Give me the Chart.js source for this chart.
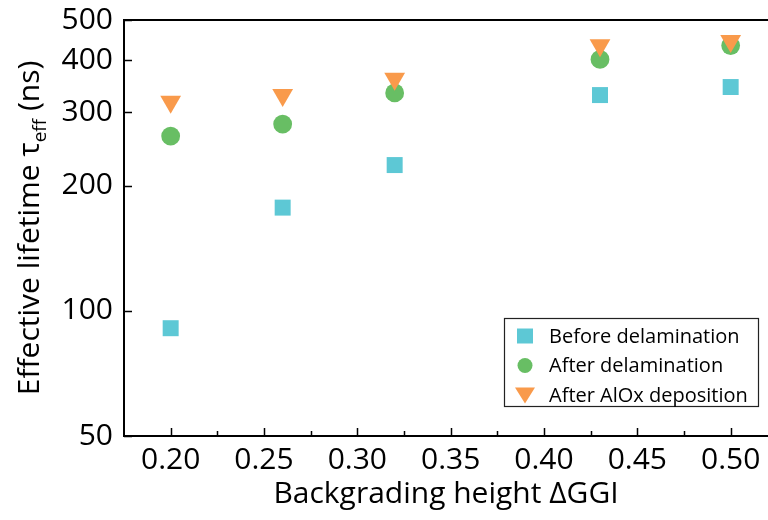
<!DOCTYPE html>
<html lang="en">
<head>
  <meta charset="UTF-8">
  <title>Effective lifetime vs backgrading height</title>
  <script src="https://cdn.jsdelivr.net/npm/chart.js"></script>
  <style>
    body {
      margin: 0;
      background: #fff;
    }
    .chart-box {
      width: 768px;
      height: 520px;
    }
  </style>
</head>
<body>
  <div class="chart-box"><canvas id="tauChart" width="768" height="520"></canvas></div>

  <script>
    // backgrading height (x) and effective lifetime in ns for each step
    const ggi = [0.20, 0.26, 0.32, 0.43, 0.50];
    const tauBefore = [90.8, 177, 224, 330, 345];
    const tauAfterDelam = [263, 281, 334, 402, 434];
    const tauAfterAlOx = [318, 330, 361, 435, 445];

    const seriesNames = ['Before delamination', 'After delamination', 'After AlOx deposition'];
    const xTicks = [0.20, 0.25, 0.30, 0.35, 0.40, 0.45, 0.50];
    const xMinorTicks = [0.225, 0.275, 0.325, 0.375, 0.425, 0.475];
    const yTicks = [50, 100, 200, 300, 400, 500];

    const FONT = '"Open Sans", sans-serif';

    function toPoints(ys) {
      return ggi.map((x, i) => ({ x: x, y: ys[i] }));
    }

    // keep the plot box fixed: no extra room for overhanging tick labels
    function noPadding(s) {
      s.paddingLeft = 0;
      s.paddingRight = 0;
      s.paddingTop = 0;
      s.paddingBottom = 0;
    }

    // top frame line + inward tick marks
    const frameTicks = {
      id: 'frameTicks',
      afterDraw(chart) {
        const { ctx, chartArea: area, scales: { x, y } } = chart;
        ctx.save();
        ctx.strokeStyle = '#000';
        ctx.lineWidth = 2;
        ctx.beginPath();
        ctx.moveTo(area.left - 1, area.top);
        ctx.lineTo(area.right, area.top);
        ctx.stroke();

        ctx.lineWidth = 1.5;
        ctx.beginPath();
        xTicks.forEach(v => {
          const px = Math.round(x.getPixelForValue(v)) + 0.5;
          ctx.moveTo(px, area.bottom);
          ctx.lineTo(px, area.bottom - 8);
        });
        xMinorTicks.forEach(v => {
          const px = Math.round(x.getPixelForValue(v)) + 0.5;
          ctx.moveTo(px, area.bottom);
          ctx.lineTo(px, area.bottom - 5);
        });
        yTicks.forEach(v => {
          const py = Math.round(y.getPixelForValue(v)) + 0.5;
          ctx.moveTo(area.left, py);
          ctx.lineTo(area.left + 8, py);
        });
        ctx.stroke();
        ctx.restore();
      }
    };

    // rotated y title with the "eff" subscript
    const yTitle = {
      id: 'yTitle',
      afterDraw(chart) {
        const { ctx, chartArea: area } = chart;
        const main = 'Effective lifetime \u03C4';
        const sub = 'eff';
        const tail = ' (ns)';
        ctx.save();
        ctx.fillStyle = '#000';
        ctx.textBaseline = 'alphabetic';
        ctx.font = '30px ' + FONT;
        const wMain = ctx.measureText(main).width;
        const wTail = ctx.measureText(tail).width;
        ctx.font = '19px ' + FONT;
        const wSub = ctx.measureText(sub).width;
        const total = wMain + wSub + wTail;

        ctx.translate(39, (area.top + area.bottom) / 2);
        ctx.rotate(-Math.PI / 2);
        let cx = -total / 2;
        ctx.font = '30px ' + FONT;
        ctx.fillText(main, cx, 0);
        cx += wMain;
        ctx.font = '19px ' + FONT;
        ctx.fillText(sub, cx, 7);
        cx += wSub;
        ctx.font = '30px ' + FONT;
        ctx.fillText(tail, cx, 0);
        ctx.restore();
      }
    };

    // boxed legend inside the plot, lower right
    const boxLegend = {
      id: 'boxLegend',
      afterDraw(chart) {
        const { ctx } = chart;
        const left = 504, top = 318, w = 254, h = 88;
        ctx.save();
        ctx.fillStyle = '#fff';
        ctx.fillRect(left, top, w, h);
        ctx.strokeStyle = '#222';
        ctx.lineWidth = 1.2;
        ctx.strokeRect(left + 0.5, top + 0.5, w, h);

        ctx.font = '20px ' + FONT;
        ctx.textBaseline = 'middle';
        chart.data.datasets.forEach((ds, i) => {
          const cy = 336 + i * 29.5;
          const mx = 525;
          ctx.fillStyle = ds.backgroundColor;
          ctx.beginPath();
          if (ds.pointStyle === 'rect') {
            ctx.rect(mx - 8, cy - 7.5, 16, 15);
          } else if (ds.pointStyle === 'circle') {
            ctx.arc(mx, cy, 7.5, 0, Math.PI * 2);
          } else {
            ctx.moveTo(mx - 10, cy - 7.5);
            ctx.lineTo(mx + 10, cy - 7.5);
            ctx.lineTo(mx, cy + 8.5);
            ctx.closePath();
          }
          ctx.fill();
          ctx.fillStyle = '#000';
          ctx.fillText(ds.label, 549, cy + 1);
        });
        ctx.restore();
      }
    };

    new Chart(document.getElementById('tauChart'), {
      type: 'scatter',
      data: {
        datasets: [
          {
            label: seriesNames[0],
            data: toPoints(tauBefore),
            backgroundColor: '#5DC8D5',
            pointStyle: 'rect',
            pointRadius: 11.3,
            borderWidth: 0,
            order: 2
          },
          {
            label: seriesNames[1],
            data: toPoints(tauAfterDelam),
            backgroundColor: '#68BE64',
            pointStyle: 'circle',
            pointRadius: 9.4,
            borderWidth: 0,
            order: 1
          },
          {
            label: seriesNames[2],
            data: toPoints(tauAfterAlOx),
            backgroundColor: '#F99A4B',
            pointStyle: 'triangle',
            rotation: 180,
            pointRadius: 12,
            borderWidth: 0,
            order: 0
          }
        ]
      },
      options: {
        responsive: false,
        animation: false,
        layout: { autoPadding: false, padding: { left: 0, right: 0, top: 20, bottom: 0 } },
        plugins: {
          legend: { display: false },
          tooltip: { enabled: false }
        },
        scales: {
          x: {
            type: 'linear',
            min: 0.175,
            max: 0.52,
            grid: { display: false, drawTicks: false },
            border: { display: true, color: '#000', width: 2 },
            ticks: {
              color: '#000',
              font: { family: FONT, size: 30 },
              padding: 6,
              maxRotation: 0,
              callback: v => v.toFixed(2)
            },
            afterBuildTicks: s => { s.ticks = xTicks.map(v => ({ value: v })); },
            afterFit: s => { s.height = 84; noPadding(s); },
            title: {
              display: true,
              text: 'Backgrading height \u0394GGI',
              color: '#000',
              font: { family: FONT, size: 30 },
              padding: { top: 0, bottom: 8 }
            }
          },
          y: {
            type: 'logarithmic',
            min: 50,
            max: 500,
            grid: { display: false, drawTicks: false },
            border: { display: true, color: '#000', width: 2 },
            ticks: {
              color: '#000',
              font: { family: FONT, size: 30 },
              padding: 11,
              callback: v => String(v)
            },
            afterBuildTicks: s => { s.ticks = yTicks.map(v => ({ value: v })); },
            afterFit: s => { s.width = 124; noPadding(s); }
          }
        }
      },
      plugins: [frameTicks, yTitle, boxLegend]
    });
  </script>
</body>
</html>
